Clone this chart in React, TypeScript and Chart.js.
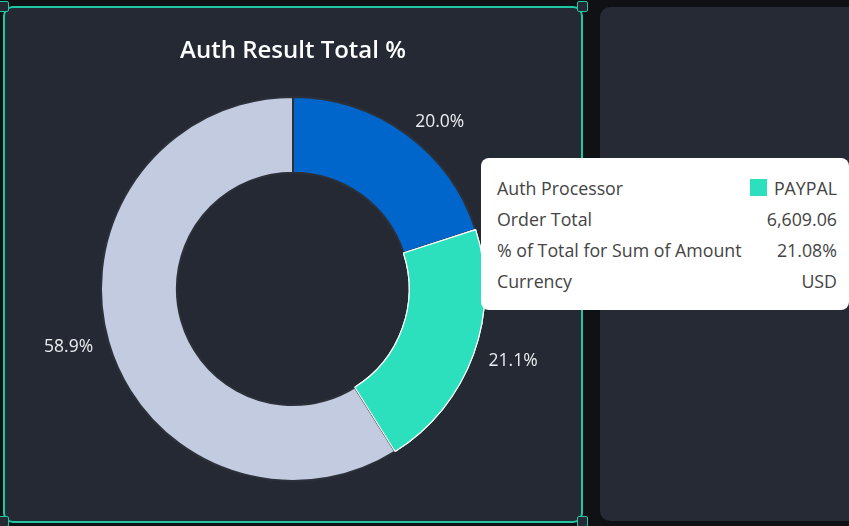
import React, { useEffect, useRef } from "react";
import { Chart, registerables } from "chart.js";

Chart.register(...registerables);

const TITLE = "Auth Result Total %";
const processors = ["Processor A", "PAYPAL", "Other"];
const shareValues = [20.0, 21.08, 58.92];
const sliceColors = ["#0066cc", "#2ce0bd", "#c3cbe0"];
const sliceBorders = ["#2c3039", "#ffffff", "#2c3039"];
const sliceBorderWidths = [2, 1.2, 2];
const activeIndex = 1;

const tooltipRows: [string, string][] = [
  ["Auth Processor", "PAYPAL"],
  ["Order Total", "6,609.06"],
  ["% of Total for Sum of Amount", "21.08%"],
  ["Currency", "USD"],
];

const FONT = "'Open Sans', 'Noto Sans', sans-serif";

const outerLabels = {
  id: "outerLabels",
  afterDatasetsDraw(chart: any) {
    const ctx = chart.ctx;
    const meta = chart.getDatasetMeta(0);
    const act = meta.data[activeIndex];
    if (act) act.draw(ctx);
    const total = shareValues.reduce((a, b) => a + b, 0);
    ctx.save();
    ctx.font = `17.5px ${FONT}`;
    ctx.fillStyle = "#ececf0";
    ctx.textBaseline = "middle";
    meta.data.forEach((arc: any, i: number) => {
      const { x, y, startAngle, endAngle, outerRadius } = arc.getProps(
        ["x", "y", "startAngle", "endAngle", "outerRadius"],
        true
      );
      const mid = (startAngle + endAngle) / 2;
      const r = outerRadius + 16;
      const lx = x + Math.cos(mid) * r;
      const ly = y + Math.sin(mid) * r + 1;
      ctx.textAlign = Math.cos(mid) >= 0 ? "left" : "right";
      const pct = ((shareValues[i] / total) * 100).toFixed(1) + "%";
      ctx.fillText(pct, lx, ly);
    });
    ctx.restore();
  },
};

function DonutChart() {
  const ref = useRef<HTMLCanvasElement | null>(null);
  useEffect(() => {
    if (!ref.current) return;
    const chart = new Chart(ref.current, {
      type: "doughnut",
      data: {
        labels: processors,
        datasets: [
          {
            data: shareValues,
            backgroundColor: sliceColors,
            borderColor: sliceBorders,
            borderWidth: sliceBorderWidths,
          },
        ],
      },
      options: {
        animation: false,
        responsive: false,
        maintainAspectRatio: false,
        radius: 192,
        cutout: "60.5%",
        events: [],
        layout: { padding: { top: 0, bottom: 14, left: 0, right: 0 } },
        plugins: {
          legend: { display: false },
          tooltip: { enabled: false },
          title: {
            display: true,
            text: TITLE,
            color: "#ffffff",
            font: { family: FONT, size: 24, weight: "600", lineHeight: 1.2 },
            padding: { top: 37, bottom: 0 },
          },
        },
      } as any,
      plugins: [outerLabels],
    });
    return () => chart.destroy();
  }, []);
  return (
    <canvas
      ref={ref}
      width={586}
      height={526}
      style={{ position: "absolute", left: 0, top: 0, width: 586, height: 526 }}
    />
  );
}

const handle = (left: number, top: number): React.CSSProperties => ({
  position: "absolute",
  left,
  top,
  width: 9,
  height: 9,
  border: "1.5px solid #1ec8a5",
  borderRadius: 2,
  background: "#252933",
  boxSizing: "content-box",
});

export default function App() {
  useEffect(() => {
    document.body.style.margin = "0";
  }, []);
  return (
    <div
      style={{
        position: "fixed",
        left: 0,
        top: 0,
        width: 849,
        height: 526,
        background: "#101114",
        overflow: "hidden",
        fontFamily: FONT,
      }}
    >
      <div
        style={{
          position: "absolute",
          left: 3,
          top: 6,
          width: 580,
          height: 517,
          boxSizing: "border-box",
          border: "2px solid #1ec8a5",
          borderRadius: 10,
          background: "#252933",
        }}
      />
      <div
        style={{
          position: "absolute",
          left: 600,
          top: 7,
          width: 270,
          height: 514,
          borderRadius: 10,
          background: "#262a34",
        }}
      />
      <DonutChart />
      <div style={handle(-2, 1)} />
      <div style={handle(577, 1)} />
      <div style={handle(-2, 516)} />
      <div style={handle(577, 516)} />
      <div
        style={{
          position: "absolute",
          left: 481,
          top: 158,
          width: 368,
          height: 152,
          background: "#ffffff",
          borderRadius: 8,
          boxSizing: "border-box",
          padding: "14px 12px 0 16px",
          color: "#444444",
          fontSize: 17.8,
        }}
      >
        {tooltipRows.map(([k, v], i) => (
          <div
            key={k}
            style={{
              display: "flex",
              justifyContent: "space-between",
              alignItems: "center",
              height: 31,
            }}
          >
            <span>{k}</span>
            <span style={{ display: "flex", alignItems: "center" }}>
              {i === 0 && (
                <span
                  style={{
                    display: "inline-block",
                    width: 17,
                    height: 17,
                    background: sliceColors[activeIndex],
                    marginRight: 7,
                  }}
                />
              )}
              {v}
            </span>
          </div>
        ))}
      </div>
    </div>
  );
}
